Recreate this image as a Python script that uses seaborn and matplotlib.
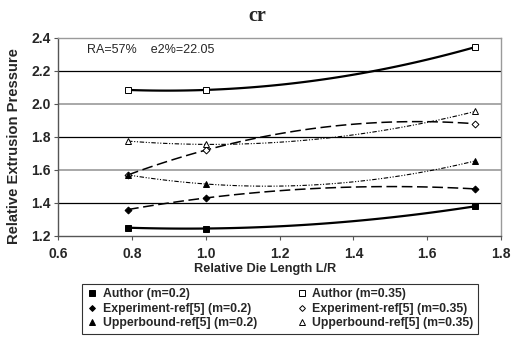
import numpy as np
import pandas as pd
import matplotlib
matplotlib.use("Agg")
import matplotlib.pyplot as plt
from matplotlib.lines import Line2D
import seaborn as sns

# datos
ld_ratio = [0.79, 1.0, 1.73]
author_02 = [1.25, 1.245, 1.38]
author_035 = [2.085, 2.085, 2.345]
exper_02 = [1.36, 1.43, 1.485]
exper_035 = [1.57, 1.72, 1.88]
upper_02 = [1.57, 1.515, 1.655]
upper_035 = [1.775, 1.755, 1.955]

series = [
    ("Author (m=0.2)", author_02, "s", True, "-", 1.6),
    ("Author (m=0.35)", author_035, "s", False, "-", 1.6),
    ("Experiment-ref[5] (m=0.2)", exper_02, "D", True, (0, (7, 3)), 1.1),
    ("Experiment-ref[5] (m=0.35)", exper_035, "D", False, (0, (7, 3)), 1.1),
    ("Upperbound-ref[5] (m=0.2)", upper_02, "^", True, (0, (4, 1.5, 1, 1.5, 1, 1.5)), 0.8),
    ("Upperbound-ref[5] (m=0.35)", upper_035, "^", False, (0, (4, 1.5, 1, 1.5, 1, 1.5)), 0.8),
]

sns.set_style("white")
plt.rcParams['font.family'] = ['Liberation Sans', 'DejaVu Sans']

fig = plt.figure(figsize=(5.12, 3.39), dpi=100)
ax = fig.add_axes([0.113, 0.304, 0.866, 0.584])

# lineas de rejilla al estilo Excel
for yv in [1.4, 1.8, 2.2]:
    ax.axhline(yv, color="black", lw=0.9, zorder=1)
for yv in [1.6, 2.0]:
    ax.axhline(yv, color="#9a9a9a", lw=1.2, zorder=1)

x_fino = np.linspace(ld_ratio[0], ld_ratio[-1], 100)
handles = []
for nombre, vals, mk, lleno, estilo, grosor in series:
    coef = np.polyfit(ld_ratio, vals, 2)
    df = pd.DataFrame({"x": x_fino, "y": np.polyval(coef, x_fino)})
    sns.lineplot(data=df, x="x", y="y", ax=ax, color="black", lw=grosor,
                 linestyle=estilo, zorder=3)
    fc = "black" if lleno else "white"
    ms = 5 if mk == "s" else 4.5
    if mk == "D":
        ms = 3.5
    ax.plot(ld_ratio, vals, linestyle="none", marker=mk, ms=ms, mfc=fc,
            mec="black", mew=0.7, zorder=4)
    handles.append(Line2D([], [], linestyle="none", marker=mk, ms=ms - 0.5,
                          mfc=fc, mec="black", mew=0.7, label=nombre))

ax.set_xlim(0.6, 1.8)
ax.set_ylim(1.2, 2.4)
ax.set_xticks(np.arange(0.6, 1.81, 0.2))
ax.set_yticks(np.arange(1.2, 2.41, 0.2))
ax.set_xticklabels([f"{v:.1f}" for v in np.arange(0.6, 1.81, 0.2)], fontweight="bold", fontsize=10)
ax.set_yticklabels([f"{v:.1f}" for v in np.arange(1.2, 2.41, 0.2)], fontweight="bold", fontsize=10)
ax.tick_params(axis="x", pad=5)
ax.tick_params(axis="both", length=3, width=0.8, color="#555555", direction="out",
               bottom=True, left=True)
ax.tick_params(axis="y", pad=2)
for s in ax.spines.values():
    s.set_color("#9a9a9a")
    s.set_linewidth(1.0)
ax.spines["left"].set_color("#555555")
ax.spines["bottom"].set_color("#555555")

ax.set_xlabel("Relative Die Length L/R", fontweight="bold", fontsize=9.2)
ax.xaxis.set_label_coords(0.467, -0.135)
ax.set_ylabel("Relative Extrusion Pressure", fontweight="bold", fontsize=10.6)
ax.yaxis.set_label_coords(-0.083, 0.455)
ax.text(0.68, 2.33, "RA=57%    e2%=22.05", fontsize=9, ha="left", va="center")

fig.text(0.502, 0.953, "cr", family="Liberation Serif", fontweight="bold",
         fontsize=14.5, ha="center", va="center")

# leyenda en dos columnas: m=0.2 a la izquierda, m=0.35 a la derecha
orden = [handles[0], handles[2], handles[4], handles[1], handles[3], handles[5]]
leg = fig.legend(handles=orden, ncol=2, loc="upper left",
                 bbox_to_anchor=(0.16, 0.162, 0.773, 0.0), mode="expand",
                 prop={"weight": "bold", "size": 8.8}, frameon=True, fancybox=False,
                 borderpad=0.35, labelspacing=0.2, handletextpad=0.35,
                 handlelength=1.0, columnspacing=1.0, borderaxespad=0)
leg.get_frame().set_edgecolor("black")
leg.get_frame().set_linewidth(0.8)

fig.savefig("out.png", dpi=100)
